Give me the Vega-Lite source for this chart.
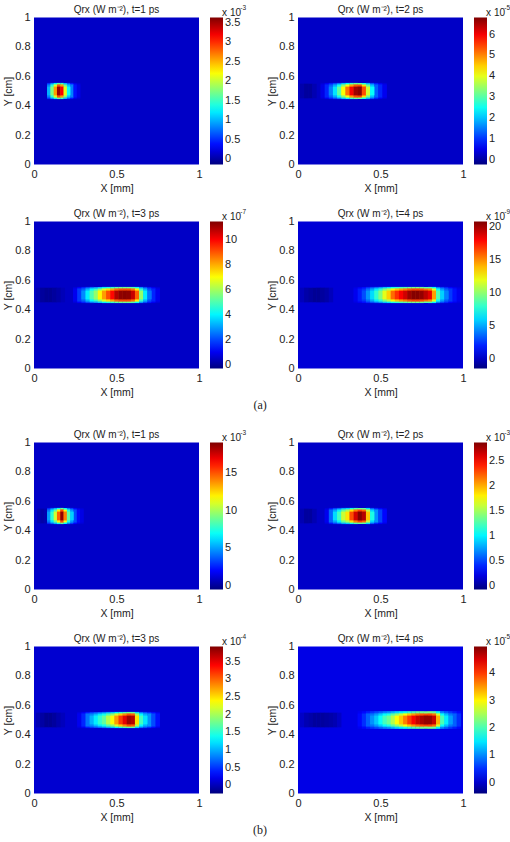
{
"$schema":"https://vega.github.io/schema/vega-lite/v6.json",
"padding":{"left":3,"top":4.5,"right":0,"bottom":0},
"autosize":{"type":"pad"},
"background":"white",
"config":{"view":{"stroke":null},
"title":{"font":"Liberation Sans","fontSize":10,"fontWeight":"normal","color":"#222","offset":-10.5},
"axis":{"format":"~g","labelFont":"Liberation Sans","labelFontSize":11,"labelColor":"#222","titleFont":"Liberation Sans","titleFontSize":10.5,"titleFontWeight":"normal","titleColor":"#222","ticks":false,"domain":false,"grid":false,"labelPadding":4,"titlePadding":1,"labelFlush":false,"labelOverlap":false},
"axisX":{"titlePadding":4},
"legend":{"labelFont":"Liberation Sans","labelFontSize":11,"labelColor":"#222","labelOffset":2,"gradientStrokeWidth":0,"format":".3~g"}},
"datasets":{
"a1":[
{"x":0.09,"y":0.445,"y2":0.555,"v":0.52},{"x":0.11,"y":0.445,"y2":0.555,"v":0.86},{"x":0.13,"y":0.445,"y2":0.555,"v":1.23},{"x":0.15,"y":0.445,"y2":0.555,"v":1.65},{"x":0.17,"y":0.445,"y2":0.555,"v":1.5},{"x":0.19,"y":0.445,"y2":0.555,"v":1.03},{"x":0.21,"y":0.445,"y2":0.555,"v":0.66},{"x":0.23,"y":0.445,"y2":0.555,"v":0.43},{"x":0.25,"y":0.445,"y2":0.555,"v":0.25},{"x":0.27,"y":0.445,"y2":0.555,"v":0.18},
{"x":0.09,"y":0.455,"y2":0.545,"v":0.83},{"x":0.11,"y":0.455,"y2":0.545,"v":1.43},{"x":0.13,"y":0.455,"y2":0.545,"v":2.09},{"x":0.15,"y":0.455,"y2":0.545,"v":2.84},{"x":0.17,"y":0.455,"y2":0.545,"v":2.57},{"x":0.19,"y":0.455,"y2":0.545,"v":1.73},{"x":0.21,"y":0.455,"y2":0.545,"v":1.07},{"x":0.23,"y":0.455,"y2":0.545,"v":0.81},{"x":0.25,"y":0.455,"y2":0.545,"v":0.4},{"x":0.27,"y":0.455,"y2":0.545,"v":0.25},
{"x":0.09,"y":0.47,"y2":0.53,"v":1.0},{"x":0.11,"y":0.47,"y2":0.53,"v":1.75},{"x":0.13,"y":0.47,"y2":0.53,"v":2.58},{"x":0.15,"y":0.47,"y2":0.53,"v":3.52},{"x":0.17,"y":0.47,"y2":0.53,"v":3.18},{"x":0.19,"y":0.47,"y2":0.53,"v":2.13},{"x":0.21,"y":0.47,"y2":0.53,"v":1.3}],
"a2":[
{"x":0.025,"y":0.45,"y2":0.55,"v":0.08},{"x":0.05,"y":0.45,"y2":0.55,"v":-0.03},{"x":0.075,"y":0.45,"y2":0.55,"v":-0.03},{"x":0.1,"y":0.45,"y2":0.55,"v":0.11},
{"x":0.15,"y":0.445,"y2":0.555,"v":0.35},{"x":0.175,"y":0.445,"y2":0.555,"v":0.54},{"x":0.2,"y":0.445,"y2":0.555,"v":0.83},{"x":0.225,"y":0.445,"y2":0.555,"v":1.14},{"x":0.25,"y":0.445,"y2":0.555,"v":1.52},{"x":0.275,"y":0.445,"y2":0.555,"v":2.0},{"x":0.3,"y":0.445,"y2":0.555,"v":2.45},{"x":0.325,"y":0.445,"y2":0.555,"v":2.82},{"x":0.35,"y":0.445,"y2":0.555,"v":3.1},{"x":0.375,"y":0.445,"y2":0.555,"v":3.18},{"x":0.4,"y":0.445,"y2":0.555,"v":2.57},{"x":0.425,"y":0.445,"y2":0.555,"v":1.87},{"x":0.45,"y":0.445,"y2":0.555,"v":1.24},{"x":0.475,"y":0.445,"y2":0.555,"v":0.83},{"x":0.5,"y":0.445,"y2":0.555,"v":0.54},{"x":0.525,"y":0.445,"y2":0.555,"v":0.38},
{"x":0.15,"y":0.455,"y2":0.545,"v":0.47},{"x":0.175,"y":0.455,"y2":0.545,"v":0.89},{"x":0.2,"y":0.455,"y2":0.545,"v":1.3},{"x":0.225,"y":0.455,"y2":0.545,"v":1.83},{"x":0.25,"y":0.455,"y2":0.545,"v":2.51},{"x":0.275,"y":0.455,"y2":0.545,"v":3.36},{"x":0.3,"y":0.455,"y2":0.545,"v":4.15},{"x":0.325,"y":0.455,"y2":0.545,"v":4.83},{"x":0.35,"y":0.455,"y2":0.545,"v":5.34},{"x":0.375,"y":0.455,"y2":0.545,"v":5.45},{"x":0.4,"y":0.455,"y2":0.545,"v":4.38},{"x":0.425,"y":0.455,"y2":0.545,"v":3.13},{"x":0.45,"y":0.455,"y2":0.545,"v":2.0},{"x":0.475,"y":0.455,"y2":0.545,"v":1.3},{"x":0.5,"y":0.455,"y2":0.545,"v":0.89},{"x":0.525,"y":0.455,"y2":0.545,"v":0.54},
{"x":0.2,"y":0.47,"y2":0.53,"v":1.53},{"x":0.225,"y":0.47,"y2":0.53,"v":2.23},{"x":0.25,"y":0.47,"y2":0.53,"v":3.08},{"x":0.275,"y":0.47,"y2":0.53,"v":4.14},{"x":0.3,"y":0.47,"y2":0.53,"v":5.13},{"x":0.325,"y":0.47,"y2":0.53,"v":5.97},{"x":0.35,"y":0.47,"y2":0.53,"v":6.61},{"x":0.375,"y":0.47,"y2":0.53,"v":6.75},{"x":0.4,"y":0.47,"y2":0.53,"v":5.41},{"x":0.425,"y":0.47,"y2":0.53,"v":3.85},{"x":0.45,"y":0.47,"y2":0.53,"v":2.44}],
"a3":[
{"x":0.025,"y":0.45,"y2":0.55,"v":0.27},{"x":0.05,"y":0.45,"y2":0.55,"v":0.03},{"x":0.075,"y":0.45,"y2":0.55,"v":-0.08},{"x":0.1,"y":0.45,"y2":0.55,"v":-0.08},{"x":0.125,"y":0.45,"y2":0.55,"v":0.03},{"x":0.15,"y":0.45,"y2":0.55,"v":0.15},{"x":0.175,"y":0.45,"y2":0.55,"v":0.33},
{"x":0.25,"y":0.445,"y2":0.555,"v":0.71},{"x":0.275,"y":0.445,"y2":0.555,"v":1.08},{"x":0.3,"y":0.445,"y2":0.555,"v":1.51},{"x":0.325,"y":0.445,"y2":0.555,"v":2.03},{"x":0.35,"y":0.445,"y2":0.555,"v":2.51},{"x":0.375,"y":0.445,"y2":0.555,"v":2.89},{"x":0.4,"y":0.445,"y2":0.555,"v":3.47},{"x":0.425,"y":0.445,"y2":0.555,"v":3.94},{"x":0.45,"y":0.445,"y2":0.555,"v":4.37},{"x":0.475,"y":0.445,"y2":0.555,"v":4.73},{"x":0.5,"y":0.445,"y2":0.555,"v":5.16},{"x":0.525,"y":0.445,"y2":0.555,"v":5.34},{"x":0.55,"y":0.445,"y2":0.555,"v":5.37},{"x":0.575,"y":0.445,"y2":0.555,"v":5.34},{"x":0.6,"y":0.445,"y2":0.555,"v":5.05},{"x":0.625,"y":0.445,"y2":0.555,"v":4.26},{"x":0.65,"y":0.445,"y2":0.555,"v":2.89},{"x":0.675,"y":0.445,"y2":0.555,"v":2.03},{"x":0.7,"y":0.445,"y2":0.555,"v":1.4},{"x":0.725,"y":0.445,"y2":0.555,"v":0.98},{"x":0.75,"y":0.445,"y2":0.555,"v":0.71},
{"x":0.25,"y":0.455,"y2":0.545,"v":0.97},{"x":0.275,"y":0.455,"y2":0.545,"v":1.8},{"x":0.3,"y":0.455,"y2":0.545,"v":2.29},{"x":0.325,"y":0.455,"y2":0.545,"v":3.23},{"x":0.35,"y":0.455,"y2":0.545,"v":4.08},{"x":0.375,"y":0.455,"y2":0.545,"v":4.74},{"x":0.4,"y":0.455,"y2":0.545,"v":5.77},{"x":0.425,"y":0.455,"y2":0.545,"v":6.62},{"x":0.45,"y":0.455,"y2":0.545,"v":7.37},{"x":0.475,"y":0.455,"y2":0.545,"v":8.03},{"x":0.5,"y":0.455,"y2":0.545,"v":8.78},{"x":0.525,"y":0.455,"y2":0.545,"v":9.11},{"x":0.55,"y":0.455,"y2":0.545,"v":9.16},{"x":0.575,"y":0.455,"y2":0.545,"v":9.11},{"x":0.6,"y":0.455,"y2":0.545,"v":8.6},{"x":0.625,"y":0.455,"y2":0.545,"v":7.18},{"x":0.65,"y":0.455,"y2":0.545,"v":4.74},{"x":0.675,"y":0.455,"y2":0.545,"v":3.23},{"x":0.7,"y":0.455,"y2":0.545,"v":2.1},{"x":0.725,"y":0.455,"y2":0.545,"v":1.56},{"x":0.75,"y":0.455,"y2":0.545,"v":0.97},
{"x":0.3,"y":0.47,"y2":0.53,"v":2.74},{"x":0.325,"y":0.47,"y2":0.53,"v":3.91},{"x":0.35,"y":0.47,"y2":0.53,"v":4.97},{"x":0.375,"y":0.47,"y2":0.53,"v":5.8},{"x":0.4,"y":0.47,"y2":0.53,"v":7.09},{"x":0.425,"y":0.47,"y2":0.53,"v":8.15},{"x":0.45,"y":0.47,"y2":0.53,"v":9.09},{"x":0.475,"y":0.47,"y2":0.53,"v":9.91},{"x":0.5,"y":0.47,"y2":0.53,"v":10.85},{"x":0.525,"y":0.47,"y2":0.53,"v":11.26},{"x":0.55,"y":0.47,"y2":0.53,"v":11.32},{"x":0.575,"y":0.47,"y2":0.53,"v":11.26},{"x":0.6,"y":0.47,"y2":0.53,"v":10.62},{"x":0.625,"y":0.47,"y2":0.53,"v":8.85},{"x":0.65,"y":0.47,"y2":0.53,"v":5.8},{"x":0.675,"y":0.47,"y2":0.53,"v":3.91},{"x":0.7,"y":0.47,"y2":0.53,"v":2.5}],
"a4":[
{"x":0.025,"y":0.45,"y2":0.55,"v":-0.16},{"x":0.05,"y":0.45,"y2":0.55,"v":-0.6},{"x":0.075,"y":0.45,"y2":0.55,"v":-0.83},{"x":0.1,"y":0.45,"y2":0.55,"v":-1.05},{"x":0.125,"y":0.45,"y2":0.55,"v":-1.05},{"x":0.15,"y":0.45,"y2":0.55,"v":-0.83},{"x":0.175,"y":0.45,"y2":0.55,"v":-0.6},{"x":0.2,"y":0.45,"y2":0.55,"v":-0.16},
{"x":0.35,"y":0.445,"y2":0.555,"v":0.65},{"x":0.375,"y":0.445,"y2":0.555,"v":1.06},{"x":0.4,"y":0.445,"y2":0.555,"v":1.56},{"x":0.425,"y":0.445,"y2":0.555,"v":2.27},{"x":0.45,"y":0.445,"y2":0.555,"v":2.97},{"x":0.475,"y":0.445,"y2":0.555,"v":3.78},{"x":0.5,"y":0.445,"y2":0.555,"v":4.59},{"x":0.525,"y":0.445,"y2":0.555,"v":5.59},{"x":0.55,"y":0.445,"y2":0.555,"v":6.3},{"x":0.575,"y":0.445,"y2":0.555,"v":7.31},{"x":0.6,"y":0.445,"y2":0.555,"v":7.91},{"x":0.625,"y":0.445,"y2":0.555,"v":8.41},{"x":0.65,"y":0.445,"y2":0.555,"v":8.82},{"x":0.675,"y":0.445,"y2":0.555,"v":9.32},{"x":0.7,"y":0.445,"y2":0.555,"v":9.58},{"x":0.725,"y":0.445,"y2":0.555,"v":9.58},{"x":0.75,"y":0.445,"y2":0.555,"v":9.42},{"x":0.775,"y":0.445,"y2":0.555,"v":9.02},{"x":0.8,"y":0.445,"y2":0.555,"v":8.62},{"x":0.825,"y":0.445,"y2":0.555,"v":6.8},{"x":0.85,"y":0.445,"y2":0.555,"v":4.08},{"x":0.875,"y":0.445,"y2":0.555,"v":2.87},{"x":0.9,"y":0.445,"y2":0.555,"v":2.07},{"x":0.925,"y":0.445,"y2":0.555,"v":1.36},{"x":0.95,"y":0.445,"y2":0.555,"v":0.96},{"x":0.975,"y":0.445,"y2":0.555,"v":0.65},
{"x":0.35,"y":0.455,"y2":0.545,"v":0.96},{"x":0.375,"y":0.455,"y2":0.545,"v":1.86},{"x":0.4,"y":0.455,"y2":0.545,"v":2.46},{"x":0.425,"y":0.455,"y2":0.545,"v":3.72},{"x":0.45,"y":0.455,"y2":0.545,"v":4.98},{"x":0.475,"y":0.455,"y2":0.545,"v":6.41},{"x":0.5,"y":0.455,"y2":0.545,"v":7.84},{"x":0.525,"y":0.455,"y2":0.545,"v":9.63},{"x":0.55,"y":0.455,"y2":0.545,"v":10.89},{"x":0.575,"y":0.455,"y2":0.545,"v":12.68},{"x":0.6,"y":0.455,"y2":0.545,"v":13.75},{"x":0.625,"y":0.455,"y2":0.545,"v":14.65},{"x":0.65,"y":0.455,"y2":0.545,"v":15.37},{"x":0.675,"y":0.455,"y2":0.545,"v":16.26},{"x":0.7,"y":0.455,"y2":0.545,"v":16.71},{"x":0.725,"y":0.455,"y2":0.545,"v":16.71},{"x":0.75,"y":0.455,"y2":0.545,"v":16.44},{"x":0.775,"y":0.455,"y2":0.545,"v":15.73},{"x":0.8,"y":0.455,"y2":0.545,"v":15.0},{"x":0.825,"y":0.455,"y2":0.545,"v":11.78},{"x":0.85,"y":0.455,"y2":0.545,"v":6.94},{"x":0.875,"y":0.455,"y2":0.545,"v":4.79},{"x":0.9,"y":0.455,"y2":0.545,"v":3.36},{"x":0.925,"y":0.455,"y2":0.545,"v":2.53},{"x":0.95,"y":0.455,"y2":0.545,"v":1.64},{"x":0.975,"y":0.455,"y2":0.545,"v":0.96},
{"x":0.4,"y":0.47,"y2":0.53,"v":2.98},{"x":0.425,"y":0.47,"y2":0.53,"v":4.55},{"x":0.45,"y":0.47,"y2":0.53,"v":6.12},{"x":0.475,"y":0.47,"y2":0.53,"v":7.91},{"x":0.5,"y":0.47,"y2":0.53,"v":9.7},{"x":0.525,"y":0.47,"y2":0.53,"v":11.94},{"x":0.55,"y":0.47,"y2":0.53,"v":13.51},{"x":0.575,"y":0.47,"y2":0.53,"v":15.75},{"x":0.6,"y":0.47,"y2":0.53,"v":17.09},{"x":0.625,"y":0.47,"y2":0.53,"v":18.21},{"x":0.65,"y":0.47,"y2":0.53,"v":19.11},{"x":0.675,"y":0.47,"y2":0.53,"v":20.23},{"x":0.7,"y":0.47,"y2":0.53,"v":20.79},{"x":0.725,"y":0.47,"y2":0.53,"v":20.79},{"x":0.75,"y":0.47,"y2":0.53,"v":20.45},{"x":0.775,"y":0.47,"y2":0.53,"v":19.56},{"x":0.8,"y":0.47,"y2":0.53,"v":18.66},{"x":0.825,"y":0.47,"y2":0.53,"v":14.63},{"x":0.85,"y":0.47,"y2":0.53,"v":8.58},{"x":0.875,"y":0.47,"y2":0.53,"v":5.89},{"x":0.9,"y":0.47,"y2":0.53,"v":4.1}],
"b1":[
{"x":0.03,"y":0.45,"y2":0.55,"v":0.48},{"x":0.05,"y":0.45,"y2":0.55,"v":0.28},{"x":0.07,"y":0.45,"y2":0.55,"v":0.48},
{"x":0.09,"y":0.445,"y2":0.555,"v":2.75},{"x":0.11,"y":0.445,"y2":0.555,"v":3.98},{"x":0.13,"y":0.445,"y2":0.555,"v":5.39},{"x":0.15,"y":0.445,"y2":0.555,"v":7.16},{"x":0.17,"y":0.445,"y2":0.555,"v":8.92},{"x":0.19,"y":0.445,"y2":0.555,"v":6.89},{"x":0.21,"y":0.445,"y2":0.555,"v":4.42},{"x":0.23,"y":0.445,"y2":0.555,"v":3.19},{"x":0.25,"y":0.445,"y2":0.555,"v":2.04},{"x":0.27,"y":0.445,"y2":0.555,"v":1.42},{"x":0.29,"y":0.445,"y2":0.555,"v":1.16},
{"x":0.09,"y":0.455,"y2":0.545,"v":4.17},{"x":0.11,"y":0.455,"y2":0.545,"v":6.36},{"x":0.13,"y":0.455,"y2":0.545,"v":8.88},{"x":0.15,"y":0.455,"y2":0.545,"v":12.0},{"x":0.17,"y":0.455,"y2":0.545,"v":15.15},{"x":0.19,"y":0.455,"y2":0.545,"v":11.54},{"x":0.21,"y":0.455,"y2":0.545,"v":7.15},{"x":0.23,"y":0.455,"y2":0.545,"v":4.96},{"x":0.25,"y":0.455,"y2":0.545,"v":3.42},{"x":0.27,"y":0.455,"y2":0.545,"v":2.05},{"x":0.29,"y":0.455,"y2":0.545,"v":1.46},
{"x":0.09,"y":0.47,"y2":0.53,"v":4.99},{"x":0.11,"y":0.47,"y2":0.53,"v":7.73},{"x":0.13,"y":0.47,"y2":0.53,"v":10.87},{"x":0.15,"y":0.47,"y2":0.53,"v":14.79},{"x":0.17,"y":0.47,"y2":0.53,"v":18.71},{"x":0.19,"y":0.47,"y2":0.53,"v":14.2},{"x":0.21,"y":0.47,"y2":0.53,"v":8.71},{"x":0.23,"y":0.47,"y2":0.53,"v":5.97}],
"b2":[
{"x":0.025,"y":0.45,"y2":0.55,"v":0.07},{"x":0.05,"y":0.45,"y2":0.55,"v":0.01},{"x":0.075,"y":0.45,"y2":0.55,"v":0.01},{"x":0.1,"y":0.45,"y2":0.55,"v":0.07},
{"x":0.175,"y":0.445,"y2":0.555,"v":0.18},{"x":0.2,"y":0.445,"y2":0.555,"v":0.33},{"x":0.225,"y":0.445,"y2":0.555,"v":0.48},{"x":0.25,"y":0.445,"y2":0.555,"v":0.61},{"x":0.275,"y":0.445,"y2":0.555,"v":0.79},{"x":0.3,"y":0.445,"y2":0.555,"v":0.89},{"x":0.325,"y":0.445,"y2":0.555,"v":1.09},{"x":0.35,"y":0.445,"y2":0.555,"v":1.25},{"x":0.375,"y":0.445,"y2":0.555,"v":1.35},{"x":0.4,"y":0.445,"y2":0.555,"v":1.29},{"x":0.425,"y":0.445,"y2":0.555,"v":0.93},{"x":0.45,"y":0.445,"y2":0.555,"v":0.57},{"x":0.475,"y":0.445,"y2":0.555,"v":0.39},{"x":0.5,"y":0.445,"y2":0.555,"v":0.29},{"x":0.525,"y":0.445,"y2":0.555,"v":0.21},
{"x":0.175,"y":0.455,"y2":0.545,"v":0.24},{"x":0.2,"y":0.455,"y2":0.545,"v":0.57},{"x":0.225,"y":0.455,"y2":0.545,"v":0.76},{"x":0.25,"y":0.455,"y2":0.545,"v":0.99},{"x":0.275,"y":0.455,"y2":0.545,"v":1.31},{"x":0.3,"y":0.455,"y2":0.545,"v":1.49},{"x":0.325,"y":0.455,"y2":0.545,"v":1.84},{"x":0.35,"y":0.455,"y2":0.545,"v":2.12},{"x":0.375,"y":0.455,"y2":0.545,"v":2.31},{"x":0.4,"y":0.455,"y2":0.545,"v":2.19},{"x":0.425,"y":0.455,"y2":0.545,"v":1.56},{"x":0.45,"y":0.455,"y2":0.545,"v":0.91},{"x":0.475,"y":0.455,"y2":0.545,"v":0.71},{"x":0.5,"y":0.455,"y2":0.545,"v":0.48},{"x":0.525,"y":0.455,"y2":0.545,"v":0.3},
{"x":0.225,"y":0.47,"y2":0.53,"v":0.92},{"x":0.25,"y":0.47,"y2":0.53,"v":1.21},{"x":0.275,"y":0.47,"y2":0.53,"v":1.6},{"x":0.3,"y":0.47,"y2":0.53,"v":1.83},{"x":0.325,"y":0.47,"y2":0.53,"v":2.27},{"x":0.35,"y":0.47,"y2":0.53,"v":2.62},{"x":0.375,"y":0.47,"y2":0.53,"v":2.85},{"x":0.4,"y":0.47,"y2":0.53,"v":2.71},{"x":0.425,"y":0.47,"y2":0.53,"v":1.92},{"x":0.45,"y":0.47,"y2":0.53,"v":1.1}],
"b3":[
{"x":0.025,"y":0.45,"y2":0.55,"v":-0.02},{"x":0.05,"y":0.45,"y2":0.55,"v":-0.08},{"x":0.075,"y":0.45,"y2":0.55,"v":-0.15},{"x":0.1,"y":0.45,"y2":0.55,"v":-0.15},{"x":0.125,"y":0.45,"y2":0.55,"v":-0.11},{"x":0.15,"y":0.45,"y2":0.55,"v":-0.04},{"x":0.175,"y":0.45,"y2":0.55,"v":0.02},
{"x":0.275,"y":0.445,"y2":0.555,"v":0.16},{"x":0.3,"y":0.445,"y2":0.555,"v":0.25},{"x":0.325,"y":0.445,"y2":0.555,"v":0.4},{"x":0.35,"y":0.445,"y2":0.555,"v":0.51},{"x":0.375,"y":0.445,"y2":0.555,"v":0.63},{"x":0.4,"y":0.445,"y2":0.555,"v":0.74},{"x":0.425,"y":0.445,"y2":0.555,"v":0.83},{"x":0.45,"y":0.445,"y2":0.555,"v":0.98},{"x":0.475,"y":0.445,"y2":0.555,"v":1.11},{"x":0.5,"y":0.445,"y2":0.555,"v":1.3},{"x":0.525,"y":0.445,"y2":0.555,"v":1.49},{"x":0.55,"y":0.445,"y2":0.555,"v":1.63},{"x":0.575,"y":0.445,"y2":0.555,"v":1.77},{"x":0.6,"y":0.445,"y2":0.555,"v":1.73},{"x":0.625,"y":0.445,"y2":0.555,"v":1.17},{"x":0.65,"y":0.445,"y2":0.555,"v":0.78},{"x":0.675,"y":0.445,"y2":0.555,"v":0.61},{"x":0.7,"y":0.445,"y2":0.555,"v":0.46},{"x":0.725,"y":0.445,"y2":0.555,"v":0.33},{"x":0.75,"y":0.445,"y2":0.555,"v":0.21},
{"x":0.275,"y":0.455,"y2":0.545,"v":0.23},{"x":0.3,"y":0.455,"y2":0.545,"v":0.44},{"x":0.325,"y":0.455,"y2":0.545,"v":0.77},{"x":0.35,"y":0.455,"y2":0.545,"v":0.84},{"x":0.375,"y":0.455,"y2":0.545,"v":1.04},{"x":0.4,"y":0.455,"y2":0.545,"v":1.24},{"x":0.425,"y":0.455,"y2":0.545,"v":1.4},{"x":0.45,"y":0.455,"y2":0.545,"v":1.67},{"x":0.475,"y":0.455,"y2":0.545,"v":1.9},{"x":0.5,"y":0.455,"y2":0.545,"v":2.24},{"x":0.525,"y":0.455,"y2":0.545,"v":2.56},{"x":0.55,"y":0.455,"y2":0.545,"v":2.83},{"x":0.575,"y":0.455,"y2":0.545,"v":3.07},{"x":0.6,"y":0.455,"y2":0.545,"v":3.0},{"x":0.625,"y":0.455,"y2":0.545,"v":2.0},{"x":0.65,"y":0.455,"y2":0.545,"v":1.3},{"x":0.675,"y":0.455,"y2":0.545,"v":1.0},{"x":0.7,"y":0.455,"y2":0.545,"v":0.89},{"x":0.725,"y":0.455,"y2":0.545,"v":0.6},{"x":0.75,"y":0.455,"y2":0.545,"v":0.35},
{"x":0.35,"y":0.47,"y2":0.53,"v":1.02},{"x":0.375,"y":0.47,"y2":0.53,"v":1.27},{"x":0.4,"y":0.47,"y2":0.53,"v":1.52},{"x":0.425,"y":0.47,"y2":0.53,"v":1.73},{"x":0.45,"y":0.47,"y2":0.53,"v":2.06},{"x":0.475,"y":0.47,"y2":0.53,"v":2.35},{"x":0.5,"y":0.47,"y2":0.53,"v":2.77},{"x":0.525,"y":0.47,"y2":0.53,"v":3.18},{"x":0.55,"y":0.47,"y2":0.53,"v":3.51},{"x":0.575,"y":0.47,"y2":0.53,"v":3.81},{"x":0.6,"y":0.47,"y2":0.53,"v":3.72},{"x":0.625,"y":0.47,"y2":0.53,"v":2.47},{"x":0.65,"y":0.47,"y2":0.53,"v":1.6},{"x":0.675,"y":0.47,"y2":0.53,"v":1.23}],
"b4":[
{"x":0.025,"y":0.45,"y2":0.55,"v":-0.02},{"x":0.05,"y":0.45,"y2":0.55,"v":-0.13},{"x":0.075,"y":0.45,"y2":0.55,"v":-0.18},{"x":0.1,"y":0.45,"y2":0.55,"v":-0.24},{"x":0.125,"y":0.45,"y2":0.55,"v":-0.24},{"x":0.15,"y":0.45,"y2":0.55,"v":-0.24},{"x":0.175,"y":0.45,"y2":0.55,"v":-0.21},{"x":0.2,"y":0.45,"y2":0.55,"v":-0.18},{"x":0.225,"y":0.45,"y2":0.55,"v":-0.13},{"x":0.25,"y":0.45,"y2":0.55,"v":-0.02},
{"x":0.375,"y":0.44,"y2":0.56,"v":0.21},{"x":0.4,"y":0.44,"y2":0.56,"v":0.31},{"x":0.425,"y":0.44,"y2":0.56,"v":0.43},{"x":0.45,"y":0.44,"y2":0.56,"v":0.55},{"x":0.475,"y":0.44,"y2":0.56,"v":0.67},{"x":0.5,"y":0.44,"y2":0.56,"v":0.81},{"x":0.525,"y":0.44,"y2":0.56,"v":0.96},{"x":0.55,"y":0.44,"y2":0.56,"v":1.06},{"x":0.575,"y":0.44,"y2":0.56,"v":1.23},{"x":0.6,"y":0.44,"y2":0.56,"v":1.4},{"x":0.625,"y":0.44,"y2":0.56,"v":1.54},{"x":0.65,"y":0.44,"y2":0.56,"v":1.71},{"x":0.675,"y":0.44,"y2":0.56,"v":1.88},{"x":0.7,"y":0.44,"y2":0.56,"v":2.03},{"x":0.725,"y":0.44,"y2":0.56,"v":2.15},{"x":0.75,"y":0.44,"y2":0.56,"v":2.22},{"x":0.775,"y":0.44,"y2":0.56,"v":2.27},{"x":0.8,"y":0.44,"y2":0.56,"v":2.27},{"x":0.825,"y":0.44,"y2":0.56,"v":2.15},{"x":0.85,"y":0.44,"y2":0.56,"v":1.59},{"x":0.875,"y":0.44,"y2":0.56,"v":0.99},{"x":0.9,"y":0.44,"y2":0.56,"v":0.77},{"x":0.925,"y":0.44,"y2":0.56,"v":0.58},{"x":0.95,"y":0.44,"y2":0.56,"v":0.43},{"x":0.975,"y":0.44,"y2":0.56,"v":0.31},
{"x":0.375,"y":0.455,"y2":0.545,"v":0.3},{"x":0.4,"y":0.455,"y2":0.545,"v":0.51},{"x":0.425,"y":0.455,"y2":0.545,"v":0.78},{"x":0.45,"y":0.455,"y2":0.545,"v":0.87},{"x":0.475,"y":0.455,"y2":0.545,"v":1.08},{"x":0.5,"y":0.455,"y2":0.545,"v":1.34},{"x":0.525,"y":0.455,"y2":0.545,"v":1.6},{"x":0.55,"y":0.455,"y2":0.545,"v":1.77},{"x":0.575,"y":0.455,"y2":0.545,"v":2.08},{"x":0.6,"y":0.455,"y2":0.545,"v":2.38},{"x":0.625,"y":0.455,"y2":0.545,"v":2.64},{"x":0.65,"y":0.455,"y2":0.545,"v":2.94},{"x":0.675,"y":0.455,"y2":0.545,"v":3.24},{"x":0.7,"y":0.455,"y2":0.545,"v":3.49},{"x":0.725,"y":0.455,"y2":0.545,"v":3.71},{"x":0.75,"y":0.455,"y2":0.545,"v":3.84},{"x":0.775,"y":0.455,"y2":0.545,"v":3.92},{"x":0.8,"y":0.455,"y2":0.545,"v":3.92},{"x":0.825,"y":0.455,"y2":0.545,"v":3.71},{"x":0.85,"y":0.455,"y2":0.545,"v":2.72},{"x":0.875,"y":0.455,"y2":0.545,"v":1.64},{"x":0.9,"y":0.455,"y2":0.545,"v":1.26},{"x":0.925,"y":0.455,"y2":0.545,"v":0.92},{"x":0.95,"y":0.455,"y2":0.545,"v":0.78},{"x":0.975,"y":0.455,"y2":0.545,"v":0.51},
{"x":0.45,"y":0.47,"y2":0.53,"v":1.05},{"x":0.475,"y":0.47,"y2":0.53,"v":1.32},{"x":0.5,"y":0.47,"y2":0.53,"v":1.64},{"x":0.525,"y":0.47,"y2":0.53,"v":1.97},{"x":0.55,"y":0.47,"y2":0.53,"v":2.18},{"x":0.575,"y":0.47,"y2":0.53,"v":2.56},{"x":0.6,"y":0.47,"y2":0.53,"v":2.94},{"x":0.625,"y":0.47,"y2":0.53,"v":3.26},{"x":0.65,"y":0.47,"y2":0.53,"v":3.64},{"x":0.675,"y":0.47,"y2":0.53,"v":4.01},{"x":0.7,"y":0.47,"y2":0.53,"v":4.33},{"x":0.725,"y":0.47,"y2":0.53,"v":4.6},{"x":0.75,"y":0.47,"y2":0.53,"v":4.76},{"x":0.775,"y":0.47,"y2":0.53,"v":4.87},{"x":0.8,"y":0.47,"y2":0.53,"v":4.87},{"x":0.825,"y":0.47,"y2":0.53,"v":4.6},{"x":0.85,"y":0.47,"y2":0.53,"v":3.37},{"x":0.875,"y":0.47,"y2":0.53,"v":2.02},{"x":0.9,"y":0.47,"y2":0.53,"v":1.54},{"x":0.925,"y":0.47,"y2":0.53,"v":1.11}]
},
"spacing":0,
"resolve":{"scale":{"color":"independent"},"legend":{"color":"independent"}},
"vconcat":[
{"spacing":14,"resolve":{"scale":{"color":"independent"},"legend":{"color":"independent"}},"vconcat":[
{"resolve":{"scale":{"color":"independent"},"legend":{"color":"independent"}},"hconcat":[
{"width":165,"height":147,"title":"Qrx (W m⁻²), t=1 ps","encoding":{"x":{"field":"x","type":"quantitative","scale":{"domain":[0,1],"nice":false},"axis":{"title":"X [mm]","values":[0,0.5,1]}},"y":{"field":"y","type":"quantitative","scale":{"domain":[0,1],"nice":false},"axis":{"title":"Y [cm]","values":[0,0.2,0.4,0.6,0.8,1]}},"color":{"field":"v","type":"quantitative","scale":{"domain":[-0.13,3.63],"interpolate":"rgb","range":["#00007f","#0000ff","#007fff","#00ffff","#7fff7f","#ffff00","#ff7f00","#ff0000","#7f0000"]},"legend":{"orient":"none","direction":"vertical","legendX":176,"legendY":0,"title":null,"gradientLength":147,"gradientThickness":13,"format":".3~g","values":[0,0.5,1,1.5,2,2.5,3,3.5]}}},"layer":[
{"data":{"values":[{"x":0,"x2":1,"y":0,"y2":1,"v":0.13}]},"mark":"rect","encoding":{"x2":{"field":"x2"},"y2":{"field":"y2"}}},
{"data":{"name":"a1"},"mark":{"type":"rect","width":3.6},"encoding":{"y2":{"field":"y2"}}},
{"data":{"values":[{"label":"x 10","x":1.14,"y":1.034}]},"mark":{"type":"text","align":"left","font":"Liberation Sans","fontSize":10},"encoding":{"color":{"value":"#222"},"text":{"field":"label"}}},
{"data":{"values":[{"label":"-3","x":1.25,"y":1.065}]},"mark":{"type":"text","align":"left","font":"Liberation Sans","fontSize":6.5},"encoding":{"color":{"value":"#222"},"text":{"field":"label"}}}]},
{"width":165,"height":147,"title":"Qrx (W m⁻²), t=2 ps","encoding":{"x":{"field":"x","type":"quantitative","scale":{"domain":[0,1],"nice":false},"axis":{"title":"X [mm]","values":[0,0.5,1]}},"y":{"field":"y","type":"quantitative","scale":{"domain":[0,1],"nice":false},"axis":{"title":"Y [cm]","values":[0,0.2,0.4,0.6,0.8,1]}},"color":{"field":"v","type":"quantitative","scale":{"domain":[-0.24,6.82],"interpolate":"rgb","range":["#00007f","#0000ff","#007fff","#00ffff","#7fff7f","#ffff00","#ff7f00","#ff0000","#7f0000"]},"legend":{"orient":"none","direction":"vertical","legendX":176,"legendY":0,"title":null,"gradientLength":147,"gradientThickness":13,"format":".3~g","values":[0,1,2,3,4,5,6]}}},"layer":[
{"data":{"values":[{"x":0,"x2":1,"y":0,"y2":1,"v":0.25}]},"mark":"rect","encoding":{"x2":{"field":"x2"},"y2":{"field":"y2"}}},
{"data":{"name":"a2"},"mark":{"type":"rect","width":4.4},"encoding":{"y2":{"field":"y2"}}},
{"data":{"values":[{"label":"x 10","x":1.14,"y":1.034}]},"mark":{"type":"text","align":"left","font":"Liberation Sans","fontSize":10},"encoding":{"color":{"value":"#222"},"text":{"field":"label"}}},
{"data":{"values":[{"label":"-5","x":1.25,"y":1.065}]},"mark":{"type":"text","align":"left","font":"Liberation Sans","fontSize":6.5},"encoding":{"color":{"value":"#222"},"text":{"field":"label"}}}]}
],"spacing":99,"bounds":"flush"},
{"resolve":{"scale":{"color":"independent"},"legend":{"color":"independent"}},"hconcat":[
{"width":165,"height":147,"title":"Qrx (W m⁻²), t=3 ps","encoding":{"x":{"field":"x","type":"quantitative","scale":{"domain":[0,1],"nice":false},"axis":{"title":"X [mm]","values":[0,0.5,1]}},"y":{"field":"y","type":"quantitative","scale":{"domain":[0,1],"nice":false},"axis":{"title":"Y [cm]","values":[0,0.2,0.4,0.6,0.8,1]}},"color":{"field":"v","type":"quantitative","scale":{"domain":[-0.32,11.44],"interpolate":"rgb","range":["#00007f","#0000ff","#007fff","#00ffff","#7fff7f","#ffff00","#ff7f00","#ff0000","#7f0000"]},"legend":{"orient":"none","direction":"vertical","legendX":176,"legendY":0,"title":null,"gradientLength":147,"gradientThickness":13,"format":".3~g","values":[0,2,4,6,8,10]}}},"layer":[
{"data":{"values":[{"x":0,"x2":1,"y":0,"y2":1,"v":0.5}]},"mark":"rect","encoding":{"x2":{"field":"x2"},"y2":{"field":"y2"}}},
{"data":{"name":"a3"},"mark":{"type":"rect","width":4.4},"encoding":{"y2":{"field":"y2"}}},
{"data":{"values":[{"label":"x 10","x":1.14,"y":1.034}]},"mark":{"type":"text","align":"left","font":"Liberation Sans","fontSize":10},"encoding":{"color":{"value":"#222"},"text":{"field":"label"}}},
{"data":{"values":[{"label":"-7","x":1.25,"y":1.065}]},"mark":{"type":"text","align":"left","font":"Liberation Sans","fontSize":6.5},"encoding":{"color":{"value":"#222"},"text":{"field":"label"}}}]},
{"width":165,"height":147,"title":"Qrx (W m⁻²), t=4 ps","encoding":{"x":{"field":"x","type":"quantitative","scale":{"domain":[0,1],"nice":false},"axis":{"title":"X [mm]","values":[0,0.5,1]}},"y":{"field":"y","type":"quantitative","scale":{"domain":[0,1],"nice":false},"axis":{"title":"Y [cm]","values":[0,0.2,0.4,0.6,0.8,1]}},"color":{"field":"v","type":"quantitative","scale":{"domain":[-1.5,20.9],"interpolate":"rgb","range":["#00007f","#0000ff","#007fff","#00ffff","#7fff7f","#ffff00","#ff7f00","#ff0000","#7f0000"]},"legend":{"orient":"none","direction":"vertical","legendX":176,"legendY":0,"title":null,"gradientLength":147,"gradientThickness":13,"format":".3~g","values":[0,5,10,15,20]}}},"layer":[
{"data":{"values":[{"x":0,"x2":1,"y":0,"y2":1,"v":0.4}]},"mark":"rect","encoding":{"x2":{"field":"x2"},"y2":{"field":"y2"}}},
{"data":{"name":"a4"},"mark":{"type":"rect","width":4.4},"encoding":{"y2":{"field":"y2"}}},
{"data":{"values":[{"label":"x 10","x":1.14,"y":1.034}]},"mark":{"type":"text","align":"left","font":"Liberation Sans","fontSize":10},"encoding":{"color":{"value":"#222"},"text":{"field":"label"}}},
{"data":{"values":[{"label":"-9","x":1.25,"y":1.065}]},"mark":{"type":"text","align":"left","font":"Liberation Sans","fontSize":6.5},"encoding":{"color":{"value":"#222"},"text":{"field":"label"}}}]}
],"spacing":99,"bounds":"flush"}
]},
{"width":470,"height":29,"data":{"values":[{"label":"(a)"}]},"mark":{"type":"text","font":"Liberation Serif","fontSize":12,"color":"#222"},"encoding":{"text":{"field":"label"},"x":{"datum":0.481,"scale":{"domain":[0,1]},"axis":null},"y":{"datum":0.84,"scale":{"domain":[0,1]},"axis":null}}},
{"spacing":14,"resolve":{"scale":{"color":"independent"},"legend":{"color":"independent"}},"vconcat":[
{"resolve":{"scale":{"color":"independent"},"legend":{"color":"independent"}},"hconcat":[
{"width":165,"height":147,"title":"Qrx (W m⁻²), t=1 ps","encoding":{"x":{"field":"x","type":"quantitative","scale":{"domain":[0,1],"nice":false},"axis":{"title":"X [mm]","values":[0,0.5,1]}},"y":{"field":"y","type":"quantitative","scale":{"domain":[0,1],"nice":false},"axis":{"title":"Y [cm]","values":[0,0.2,0.4,0.6,0.8,1]}},"color":{"field":"v","type":"quantitative","scale":{"domain":[-0.5,19.1],"interpolate":"rgb","range":["#00007f","#0000ff","#007fff","#00ffff","#7fff7f","#ffff00","#ff7f00","#ff0000","#7f0000"]},"legend":{"orient":"none","direction":"vertical","legendX":176,"legendY":0,"title":null,"gradientLength":147,"gradientThickness":13,"format":".3~g","values":[0,5,10,15]}}},"layer":[
{"data":{"values":[{"x":0,"x2":1,"y":0,"y2":1,"v":0.9}]},"mark":"rect","encoding":{"x2":{"field":"x2"},"y2":{"field":"y2"}}},
{"data":{"name":"b1"},"mark":{"type":"rect","width":3.6},"encoding":{"y2":{"field":"y2"}}},
{"data":{"values":[{"label":"x 10","x":1.14,"y":1.034}]},"mark":{"type":"text","align":"left","font":"Liberation Sans","fontSize":10},"encoding":{"color":{"value":"#222"},"text":{"field":"label"}}},
{"data":{"values":[{"label":"-3","x":1.25,"y":1.065}]},"mark":{"type":"text","align":"left","font":"Liberation Sans","fontSize":6.5},"encoding":{"color":{"value":"#222"},"text":{"field":"label"}}}]},
{"width":165,"height":147,"title":"Qrx (W m⁻²), t=2 ps","encoding":{"x":{"field":"x","type":"quantitative","scale":{"domain":[0,1],"nice":false},"axis":{"title":"X [mm]","values":[0,0.5,1]}},"y":{"field":"y","type":"quantitative","scale":{"domain":[0,1],"nice":false},"axis":{"title":"Y [cm]","values":[0,0.2,0.4,0.6,0.8,1]}},"color":{"field":"v","type":"quantitative","scale":{"domain":[-0.08,2.86],"interpolate":"rgb","range":["#00007f","#0000ff","#007fff","#00ffff","#7fff7f","#ffff00","#ff7f00","#ff0000","#7f0000"]},"legend":{"orient":"none","direction":"vertical","legendX":176,"legendY":0,"title":null,"gradientLength":147,"gradientThickness":13,"format":".3~g","values":[0,0.5,1,1.5,2,2.5]}}},"layer":[
{"data":{"values":[{"x":0,"x2":1,"y":0,"y2":1,"v":0.13}]},"mark":"rect","encoding":{"x2":{"field":"x2"},"y2":{"field":"y2"}}},
{"data":{"name":"b2"},"mark":{"type":"rect","width":4.4},"encoding":{"y2":{"field":"y2"}}},
{"data":{"values":[{"label":"x 10","x":1.14,"y":1.034}]},"mark":{"type":"text","align":"left","font":"Liberation Sans","fontSize":10},"encoding":{"color":{"value":"#222"},"text":{"field":"label"}}},
{"data":{"values":[{"label":"-3","x":1.25,"y":1.065}]},"mark":{"type":"text","align":"left","font":"Liberation Sans","fontSize":6.5},"encoding":{"color":{"value":"#222"},"text":{"field":"label"}}}]}
],"spacing":99,"bounds":"flush"},
{"resolve":{"scale":{"color":"independent"},"legend":{"color":"independent"}},"hconcat":[
{"width":165,"height":147,"title":"Qrx (W m⁻²), t=3 ps","encoding":{"x":{"field":"x","type":"quantitative","scale":{"domain":[0,1],"nice":false},"axis":{"title":"X [mm]","values":[0,0.5,1]}},"y":{"field":"y","type":"quantitative","scale":{"domain":[0,1],"nice":false},"axis":{"title":"Y [cm]","values":[0,0.2,0.4,0.6,0.8,1]}},"color":{"field":"v","type":"quantitative","scale":{"domain":[-0.23,3.93],"interpolate":"rgb","range":["#00007f","#0000ff","#007fff","#00ffff","#7fff7f","#ffff00","#ff7f00","#ff0000","#7f0000"]},"legend":{"orient":"none","direction":"vertical","legendX":176,"legendY":0,"title":null,"gradientLength":147,"gradientThickness":13,"format":".3~g","values":[0,0.5,1,1.5,2,2.5,3,3.5]}}},"layer":[
{"data":{"values":[{"x":0,"x2":1,"y":0,"y2":1,"v":0.1}]},"mark":"rect","encoding":{"x2":{"field":"x2"},"y2":{"field":"y2"}}},
{"data":{"name":"b3"},"mark":{"type":"rect","width":4.4},"encoding":{"y2":{"field":"y2"}}},
{"data":{"values":[{"label":"x 10","x":1.14,"y":1.034}]},"mark":{"type":"text","align":"left","font":"Liberation Sans","fontSize":10},"encoding":{"color":{"value":"#222"},"text":{"field":"label"}}},
{"data":{"values":[{"label":"-4","x":1.25,"y":1.065}]},"mark":{"type":"text","align":"left","font":"Liberation Sans","fontSize":6.5},"encoding":{"color":{"value":"#222"},"text":{"field":"label"}}}]},
{"width":165,"height":147,"title":"Qrx (W m⁻²), t=4 ps","encoding":{"x":{"field":"x","type":"quantitative","scale":{"domain":[0,1],"nice":false},"axis":{"title":"X [mm]","values":[0,0.5,1]}},"y":{"field":"y","type":"quantitative","scale":{"domain":[0,1],"nice":false},"axis":{"title":"Y [cm]","values":[0,0.2,0.4,0.6,0.8,1]}},"color":{"field":"v","type":"quantitative","scale":{"domain":[-0.4,4.98],"interpolate":"rgb","range":["#00007f","#0000ff","#007fff","#00ffff","#7fff7f","#ffff00","#ff7f00","#ff0000","#7f0000"]},"legend":{"orient":"none","direction":"vertical","legendX":176,"legendY":0,"title":null,"gradientLength":147,"gradientThickness":13,"format":".3~g","values":[0,1,2,3,4]}}},"layer":[
{"data":{"values":[{"x":0,"x2":1,"y":0,"y2":1,"v":0.14}]},"mark":"rect","encoding":{"x2":{"field":"x2"},"y2":{"field":"y2"}}},
{"data":{"name":"b4"},"mark":{"type":"rect","width":4.4},"encoding":{"y2":{"field":"y2"}}},
{"data":{"values":[{"label":"x 10","x":1.14,"y":1.034}]},"mark":{"type":"text","align":"left","font":"Liberation Sans","fontSize":10},"encoding":{"color":{"value":"#222"},"text":{"field":"label"}}},
{"data":{"values":[{"label":"-5","x":1.25,"y":1.065}]},"mark":{"type":"text","align":"left","font":"Liberation Sans","fontSize":6.5},"encoding":{"color":{"value":"#222"},"text":{"field":"label"}}}]}
],"spacing":99,"bounds":"flush"}
]},
{"width":470,"height":16,"data":{"values":[{"label":"(b)"}]},"mark":{"type":"text","font":"Liberation Serif","fontSize":12,"color":"#222"},"encoding":{"text":{"field":"label"},"x":{"datum":0.481,"scale":{"domain":[0,1]},"axis":null},"y":{"datum":0.6,"scale":{"domain":[0,1]},"axis":null}}}
]
}
